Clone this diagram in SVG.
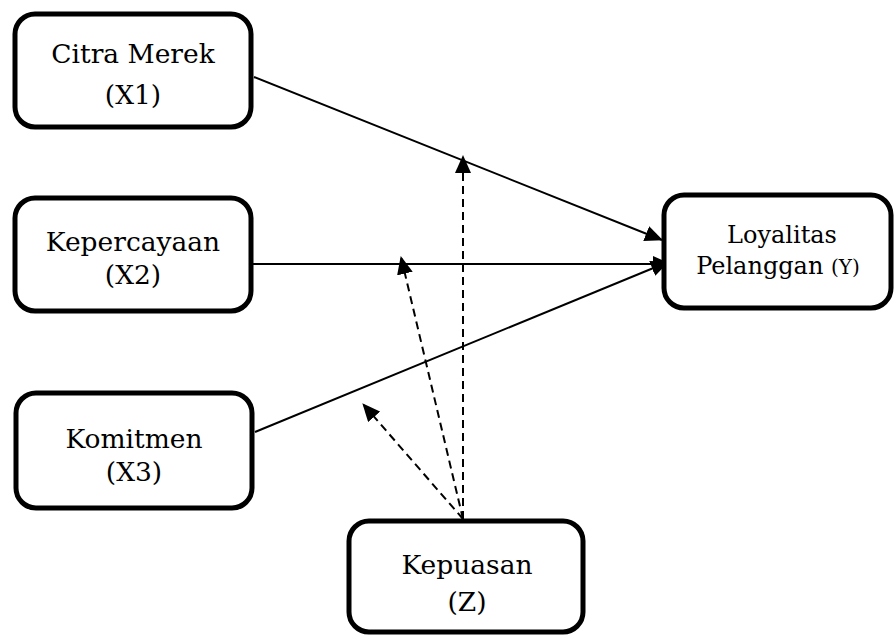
<svg xmlns="http://www.w3.org/2000/svg" width="895" height="638" viewBox="0 0 895 638">
<style>
.box{fill:#fff;stroke:#000;stroke-width:5}
.t{font-family:"DejaVu Serif","Liberation Serif",serif;font-size:26.5px;fill:#000;text-anchor:middle}
.ts{font-family:"DejaVu Serif","Liberation Serif",serif;font-size:24px;fill:#000;text-anchor:middle}
.solid{stroke:#000;stroke-width:2;fill:none}
.dash{stroke:#000;stroke-width:2;fill:none;stroke-dasharray:8 5}
</style>
<defs>
<marker id="ah" markerWidth="18" markerHeight="16" refX="17" refY="8" orient="auto" markerUnits="userSpaceOnUse">
<path d="M0,0 L18,8 L0,16 Z" fill="#000"/>
</marker>
</defs>
<g id="connectors">
<line class="solid" x1="254" y1="77" x2="662" y2="240" marker-end="url(#ah)"/>
<line class="solid" x1="247" y1="264" x2="670" y2="264" marker-end="url(#ah)"/>
<line class="solid" x1="255" y1="432" x2="668" y2="262" marker-end="url(#ah)"/>
<line class="dash" x1="463" y1="519" x2="463" y2="156" marker-end="url(#ah)"/>
<line class="dash" x1="463" y1="519" x2="401" y2="257" marker-end="url(#ah)"/>
<line class="dash" x1="463" y1="519" x2="363" y2="404" marker-end="url(#ah)"/>
</g>
<g id="x1">
<rect class="box" x="15" y="14" width="236" height="113" rx="20"/>
<text class="t" x="133" y="63">Citra Merek</text>
<text class="t" x="133" y="104">(X1)</text>
</g>
<g id="x2">
<rect class="box" x="15" y="198" width="236" height="113" rx="20"/>
<text class="t" x="133" y="251">Kepercayaan</text>
<text class="t" x="133" y="284">(X2)</text>
</g>
<g id="x3">
<rect class="box" x="16" y="393" width="236" height="115" rx="20"/>
<text class="t" x="134" y="448">Komitmen</text>
<text class="t" x="134" y="481">(X3)</text>
</g>
<g id="y">
<rect class="box" x="664" y="195" width="227" height="113" rx="20"/>
<text class="ts" x="782" y="243">Loyalitas</text>
<text class="ts" x="778" y="274">Pelanggan <tspan font-size="20">(Y)</tspan></text>
</g>
<g id="z">
<rect class="box" x="349" y="521" width="234" height="111" rx="20"/>
<text class="t" x="467" y="574">Kepuasan</text>
<text class="t" x="467" y="611">(Z)</text>
</g>
</svg>
